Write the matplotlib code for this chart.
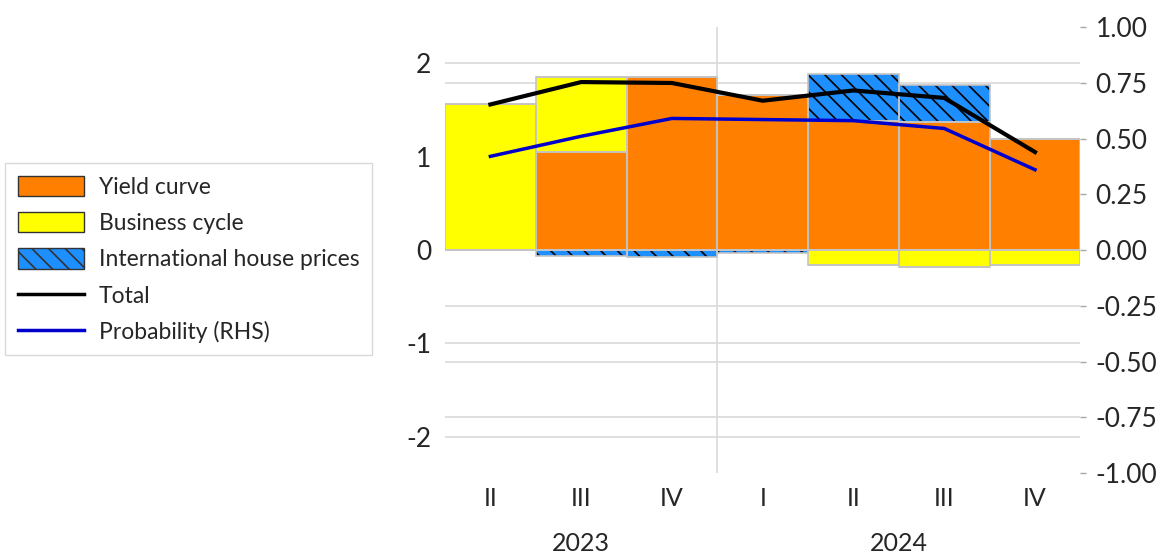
import matplotlib.pyplot as plt
import numpy as np
from matplotlib.patches import Patch
from matplotlib.lines import Line2D

plt.rcParams["font.family"] = ["Lato", "DejaVu Sans"]
plt.rcParams["hatch.linewidth"] = 1.2

quarters = ["II", "III", "IV", "I", "II", "III", "IV"]
years = ["2023", "2024"]
year_centers = [1.0, 4.5]

yield_curve = [0.0, 1.05, 1.85, 1.66, 1.38, 1.37, 1.19]
business_cycle = [1.56, 0.80, 0.0, 0.0, -0.16, -0.18, -0.16]
intl_house = [0.0, -0.06, -0.08, -0.03, 0.51, 0.40, 0.0]
total = [1.56, 1.80, 1.79, 1.60, 1.71, 1.63, 1.05]
probability = [0.42, 0.51, 0.59, 0.585, 0.58, 0.545, 0.36]

ORANGE = "#FF8000"
YELLOW = "#FFFF00"
BLUE = "#1E8FFF"
EDGE = "#C4C4C4"
GRID = "#D9D9D9"
TXT = "#262626"

left_lim = 2.39
right_lim = 1.0

fig = plt.figure(figsize=(11.68, 5.58), dpi=100)
ax = fig.add_axes([0.381, 0.1523, 0.544, 0.7993])
ax2 = ax.twinx()

x = np.arange(len(quarters))
pos_base = np.zeros(len(x))
neg_base = np.zeros(len(x))
series = [
    (yield_curve, ORANGE, None),
    (business_cycle, YELLOW, None),
    (intl_house, BLUE, "\\\\"),
]
for vals, col, hatch in series:
    vals = np.array(vals)
    pos = np.where(vals > 0, vals, 0)
    neg = np.where(vals < 0, vals, 0)
    for part, base in ((pos, pos_base), (neg, neg_base)):
        # fill (hatch drawn in black), then grey outline on top
        ax.bar(x, part, bottom=base, width=1.0, color=col, edgecolor="black",
               linewidth=0, hatch=hatch, zorder=2)
        ax.bar(x, part, bottom=base, width=1.0, fill=False, edgecolor=EDGE,
               linewidth=1.2, zorder=2.5)
    pos_base += pos
    neg_base += neg

# gridlines for both axes, drawn under the bars
for v in [2, 1, 0, -1, -2]:
    ax.axhline(v, color=GRID, lw=1.2, zorder=0)
for v in [0.75, 0.5, 0.25, -0.25, -0.5, -0.75]:
    ax.axhline(v * left_lim / right_lim, color=GRID, lw=1.2, zorder=0)
ax.axvline(2.5, color=GRID, lw=1.2, zorder=1)

ax.plot(x, total, color="black", lw=3, zorder=4)
ax2.plot(x, probability, color="#0000CC", lw=2.5, zorder=4)

ax.set_xlim(-0.5, 6.5)
ax.set_ylim(-left_lim, left_lim)
ax2.set_ylim(-right_lim, right_lim)

ax.set_yticks([2, 1, 0, -1, -2])
ax.set_yticklabels(["2", "1", "0", "-1", "-2"])
ax.tick_params(axis="y", length=0, pad=10, labelsize=19, labelcolor=TXT)
ax.set_xticks(x)
ax.set_xticklabels(quarters)
ax.tick_params(axis="x", length=0, pad=10, labelsize=18, labelcolor=TXT)

rticks = [1.0, 0.75, 0.5, 0.25, 0.0, -0.25, -0.5, -0.75, -1.0]
ax2.set_yticks(rticks)
ax2.set_yticklabels([f"{v:.2f}" for v in rticks])
ax2.tick_params(axis="y", length=4, width=1, color="#A6A6A6", pad=7,
                labelsize=19, labelcolor=TXT)

for a in (ax, ax2):
    for s in a.spines.values():
        s.set_visible(False)

for yr, xc in zip(years, year_centers):
    ax.text(xc, -0.157, yr, transform=ax.get_xaxis_transform(), ha="center",
            va="center", fontsize=18, color=TXT)

handles = [
    Patch(facecolor=ORANGE, edgecolor="#333333", label="Yield curve"),
    Patch(facecolor=YELLOW, edgecolor="#333333", label="Business cycle"),
    Patch(facecolor=BLUE, edgecolor="#333333", hatch="\\\\",
          label="International house prices"),
    Line2D([], [], color="black", lw=2.5, label="Total"),
    Line2D([], [], color="#0000CC", lw=2.5, label="Probability (RHS)"),
]
leg = fig.legend(handles=handles, loc="upper left",
                 bbox_to_anchor=(0.0043, 0.708), fontsize=16.5,
                 frameon=True, fancybox=False, edgecolor="#D0D0D0",
                 handlelength=2.9, handleheight=1.0, handletextpad=0.65,
                 labelspacing=0.62, borderpad=0.55, borderaxespad=0)
leg.get_frame().set_linewidth(1.0)
for t in leg.get_texts():
    t.set_color(TXT)

fig.savefig("out.png", dpi=100)
